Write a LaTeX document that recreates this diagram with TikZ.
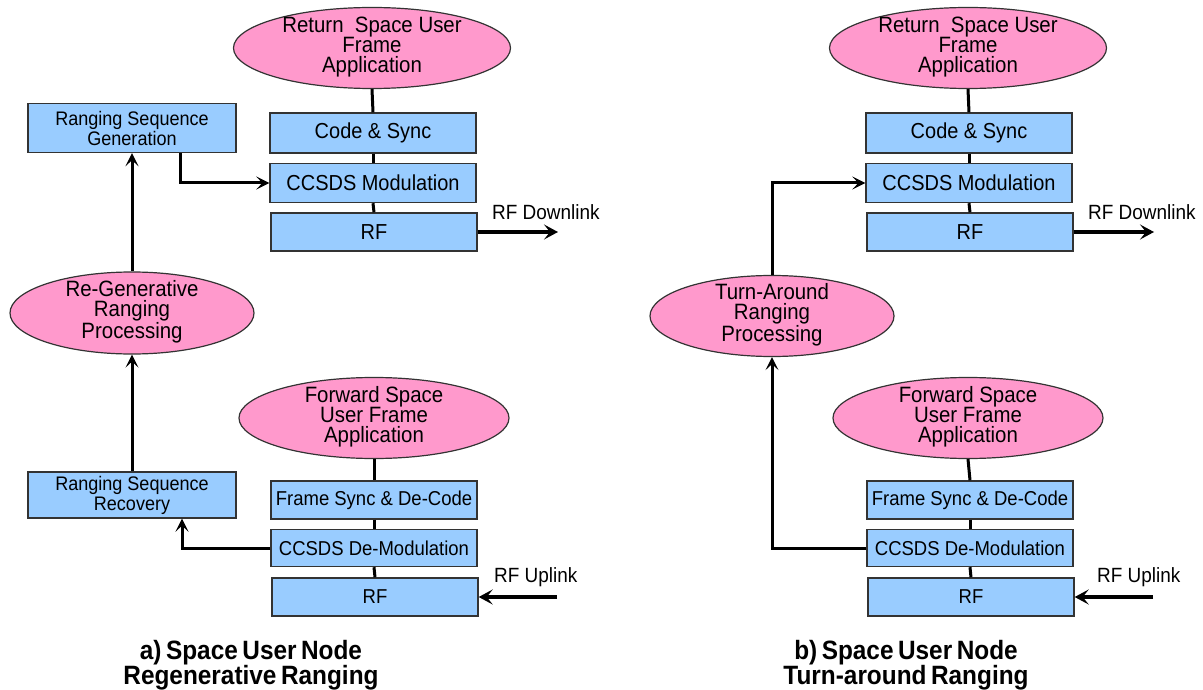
\documentclass[tikz,border=0pt]{standalone}
\usepackage{fontspec}
\setmainfont{Liberation Sans}[FakeStretch=0.92]
\usetikzlibrary{arrows.meta,shapes.geometric}
\definecolor{boxblue}{HTML}{99CCFF}
\definecolor{ellpink}{HTML}{FF99CC}
\definecolor{edge}{HTML}{333333}
\newcommand{\captionfont}{\fontsize{26.5}{25}\selectfont\bfseries\spaceskip=4.5pt\relax}
\begin{document}
\begin{tikzpicture}[x=1pt,y=-1pt,
  box/.style={rectangle, draw=edge, line width=1.4pt, fill=boxblue, inner sep=0pt, align=center,
    font=\fontsize{21.7}{20}\selectfont},
  sbox/.style={box, font=\fontsize{20.1}{20}\selectfont},
  gbox/.style={box, font=\fontsize{19.6}{20}\selectfont},
  ell/.style={ellipse, draw=edge, line width=1.2pt, fill=ellpink, inner sep=0pt},
  etext/.style={align=center, inner sep=0pt, font=\fontsize{22.2}{20}\selectfont},
  lbl/.style={inner sep=0pt, anchor=west, font=\fontsize{20.6}{20}\selectfont},
  captext/.style={align=center, inner sep=0pt, font=\captionfont},
  conn/.style={line width=3pt},
  arr/.style={line width=3pt, -{Stealth[length=13pt,width=13pt,inset=6pt]}},
  bigarr/.style={line width=4.4pt, -{Stealth[length=14pt,width=15pt,inset=6pt]}}]
\useasboundingbox (0,0) rectangle (1203,690);

% ---------- left panel ----------
\node[ell, minimum width=277, minimum height=81] (ret1) at (372,48) {};
\node[etext] (ret1t) at (372,47) {Return\ \ Space User\\Frame\\Application};
\node[box, minimum width=206, minimum height=40] (cs1) at (373,133) {Code \& Sync};
\node[box, minimum width=206, minimum height=39] (mod1) at (373,183) {CCSDS Modulation};
\node[box, minimum width=206, minimum height=38] (rf1) at (374,232) {RF};
\node[gbox, minimum width=208, minimum height=49] (gen) at (132,128) {Ranging Sequence\\Generation};
\node[ell, minimum width=244, minimum height=82] (regen) at (132,313) {};
\node[etext] (regent) at (132,312) {Re-Generative\\Ranging\\Processing};
\node[gbox, minimum width=208, minimum height=46] (rec) at (132,495) {Ranging Sequence\\Recovery};
\node[ell, minimum width=270, minimum height=81] (fwd1) at (374,418) {};
\node[etext] (fwd1t) at (374,417) {Forward Space\\User Frame\\Application};
\node[sbox, minimum width=206, minimum height=38] (fs1) at (374,500) {Frame Sync \& De-Code};
\node[sbox, minimum width=206, minimum height=37] (dm1) at (374,548) {CCSDS De-Modulation};
\node[sbox, minimum width=206, minimum height=38] (rfu1) at (375,597) {RF};
\coordinate (dl1) at (558,232);
\coordinate (ul1) at (557,597);
\node[lbl] (dl1t) at (492,212) {RF Downlink};
\node[lbl] (ul1t) at (494,577) {RF Uplink};

\draw[conn] (ret1.south) -- (cs1.north);
\draw[conn] (cs1.south) -- (mod1.north);
\draw[conn] (mod1.south) -- (rf1.north);
\draw[conn] (fwd1.south) -- (fs1.north);
\draw[conn] (fs1.south) -- (dm1.north);
\draw[conn] (dm1.south) -- (rfu1.north);
\draw[arr] (regen.north) -- (gen.south);
\draw[arr] (rec.north) -- (regen.south);
\draw[arr] ([xshift=48pt]gen.south) |- (mod1.west);
\draw[arr] (dm1.west) -| ([xshift=50pt]rec.south);
\draw[bigarr] (rf1.east) -- (dl1);
\draw[bigarr] (ul1) -- (rfu1.east);

\node[captext] (capa) at (251,665) {a) Space User Node\\Regenerative Ranging};

% ---------- right panel ----------
\node[ell, minimum width=277, minimum height=81] (ret2) at (968,48) {};
\node[etext] (ret2t) at (968,47) {Return\ \ Space User\\Frame\\Application};
\node[box, minimum width=206, minimum height=40] (cs2) at (969,133) {Code \& Sync};
\node[box, minimum width=206, minimum height=39] (mod2) at (969,183) {CCSDS Modulation};
\node[box, minimum width=206, minimum height=38] (rf2) at (970,232) {RF};
\node[ell, minimum width=244, minimum height=81] (turn) at (772,316) {};
\node[etext] (turnt) at (772,315) {Turn-Around\\Ranging\\Processing};
\node[ell, minimum width=270, minimum height=81] (fwd2) at (968,418) {};
\node[etext] (fwd2t) at (968,417) {Forward Space\\User Frame\\Application};
\node[sbox, minimum width=206, minimum height=38] (fs2) at (970,500) {Frame Sync \& De-Code};
\node[sbox, minimum width=206, minimum height=37] (dm2) at (970,548) {CCSDS De-Modulation};
\node[sbox, minimum width=206, minimum height=38] (rfu2) at (971,597) {RF};
\coordinate (dl2) at (1154,232);
\coordinate (ul2) at (1153,597);
\node[lbl] (dl2t) at (1088,212) {RF Downlink};
\node[lbl] (ul2t) at (1097,577) {RF Uplink};

\draw[conn] (ret2.south) -- (cs2.north);
\draw[conn] (cs2.south) -- (mod2.north);
\draw[conn] (mod2.south) -- (rf2.north);
\draw[conn] (fwd2.south) -- (fs2.north);
\draw[conn] (fs2.south) -- (dm2.north);
\draw[conn] (dm2.south) -- (rfu2.north);
\draw[arr] (turn.north) |- (mod2.west);
\draw[arr] (dm2.west) -| (turn.south);
\draw[bigarr] (rf2.east) -- (dl2);
\draw[bigarr] (ul2) -- (rfu2.east);

\node[captext] (capb) at (906,665) {b) Space User Node\\Turn-around Ranging};
\end{tikzpicture}
\end{document}
